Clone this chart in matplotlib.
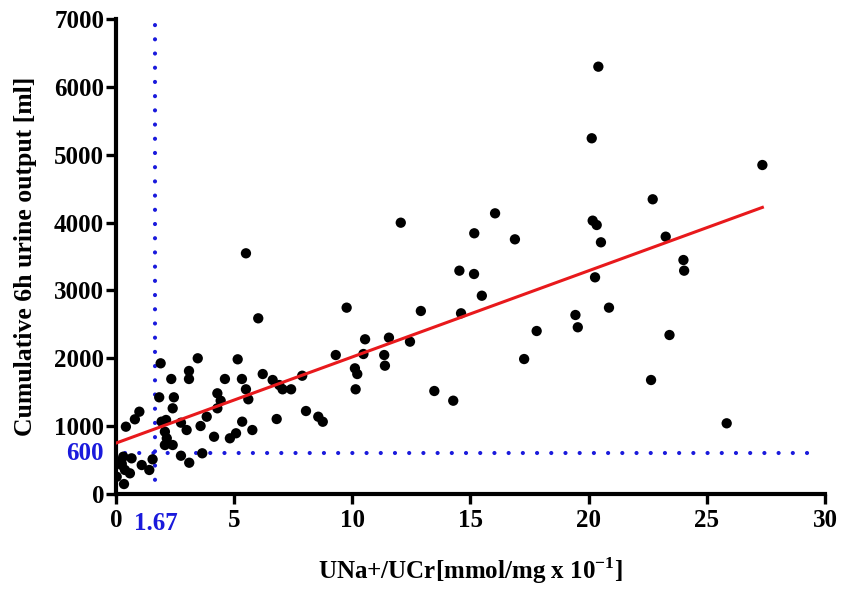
import numpy as np
import matplotlib
matplotlib.use("Agg")
import matplotlib.pyplot as plt
import matplotlib.transforms as mtransforms

# UNa+/UCr ratio (mmol/mg x 10^-1) vs cumulative 6h urine output (ml)
una_ucr = [
    0.31, 0.10, 0.24, 0.66, 0.38, 0.59, 0.03, 0.34, 1.09, 1.41, 1.55, 0.42, 0.80, 0.99, 0.24,
    1.89, 2.34, 3.09, 3.09, 3.46, 1.83, 2.45, 2.40, 1.93, 2.12, 2.07, 2.15, 2.07, 2.40,
    2.75, 2.99, 3.58, 3.84, 4.15, 4.29, 4.29, 2.75, 3.10, 3.65,
    5.50, 6.02, 5.15, 4.61, 5.33, 6.21, 5.50, 6.63, 6.91, 7.05, 7.41, 7.88, 4.43, 5.60,
    5.34, 4.82, 5.08, 5.77, 6.80, 8.56, 8.04, 8.75,
    12.05, 16.04, 15.16, 14.53, 15.15, 15.48, 14.60, 12.90, 9.76, 10.54, 11.55, 12.44,
    9.30, 10.47, 11.35, 11.38, 10.11, 10.21, 10.14, 13.47, 14.27,
    20.41, 20.13, 27.35, 22.71, 20.17, 20.34, 20.52, 16.88, 23.26, 24.01, 24.04, 20.27,
    20.86, 19.44, 19.54, 17.80, 23.42, 17.27, 22.64, 25.84,
]
urine_6h = [
    550, 476, 427, 526, 354, 305, 255, 147, 427, 354, 511, 992, 1101, 1213, 452,
    1926, 1695, 1813, 1695, 2000, 1425, 1425, 1263, 1066, 1091, 918, 821, 722, 722,
    1051, 943, 1002, 1139, 844, 1484, 1263, 564, 461, 600,
    3547, 2589, 1985, 1695, 1695, 1768, 1543, 1680, 1606, 1543, 1543, 1743, 1375, 1396,
    1066, 821, 895, 943, 1105, 1139, 1223, 1065,
    3998, 4136, 3842, 3291, 3242, 2922, 2663, 2697, 2746, 2280, 2304, 2245,
    2048, 2063, 2048, 1891, 1852, 1768, 1543, 1518, 1375,
    6297, 5242, 4848, 4343, 4028, 3964, 3709, 3753, 3792, 3448, 3291, 3193,
    2746, 2638, 2457, 2402, 2343, 1989, 1680, 1042,
]

# linear regression line
fit_intercept = 750
fit_slope = 127

# cut-off values
cut_x = 1.67
cut_y = 600

x_ticks = [0, 5, 10, 15, 20, 25, 30]
y_ticks = [0, 1000, 2000, 3000, 4000, 5000, 6000, 7000]

plt.rcParams['font.family'] = ['Liberation Serif', 'DejaVu Serif']
plt.rcParams['font.weight'] = 'bold'
plt.rcParams['mathtext.fontset'] = 'custom'
plt.rcParams['mathtext.rm'] = 'Liberation Serif:bold'
plt.rcParams['mathtext.bf'] = 'Liberation Serif:bold'

fig = plt.figure(figsize=(8.44, 5.91), dpi=100)
ax = fig.add_axes([0.1374, 0.1641, 0.8401, 0.8038])

x = np.array(una_ucr)
y = np.array(urine_6h)

blue = '#1a1adc'
dots = (0, (0.01, 3.4))
ax.plot([cut_x, cut_x], [0, 7000], color=blue, lw=3.0, ls=dots,
        dash_capstyle='round', zorder=1)
ax.plot([0.4, 29.6], [cut_y, cut_y], color=blue, lw=3.0, ls=dots,
        dash_capstyle='round', zorder=1)

ax.scatter(x, y, s=55, color='black', edgecolors='none', zorder=3)

xf = np.array([0, x.max()])
ax.plot(xf, fit_intercept + fit_slope * xf, color='#e8191c', lw=2.2, zorder=4)

ax.set_xlim(0, 30)
ax.set_ylim(0, 7000)
ax.set_xticks(x_ticks)
ax.set_yticks(y_ticks)

for s in ['top', 'right']:
    ax.spines[s].set_visible(False)
for s in ['left', 'bottom']:
    ax.spines[s].set_linewidth(3)
ax.tick_params(width=2.4, length=7.5, labelsize=18)
ax.tick_params(axis='x', pad=3)
ax.tick_params(axis='y', pad=1)
for lab in ax.get_xticklabels() + ax.get_yticklabels():
    lab.set_fontweight('bold')

# cut-off labels on the axes
trx = mtransforms.blended_transform_factory(ax.transData, ax.transAxes)
ax.text(cut_x, -0.037, '1.67', transform=trx, color=blue, fontsize=18,
        fontweight='bold', ha='center', va='top')
try_ = mtransforms.blended_transform_factory(ax.transAxes, ax.transData)
ax.text(-0.018, cut_y, '600', transform=try_, color=blue, fontsize=18,
        fontweight='bold', ha='right', va='center')

ax.set_xlabel('UNa+/UCr[mmol/mg x 10$^{\\mathbf{-1}}$]', fontsize=18,
              fontweight='bold', labelpad=17)
ax.set_ylabel('Cumulative 6h urine output [ml]', fontsize=18.5,
              fontweight='bold', labelpad=12)

fig.savefig('out.png', dpi=100)
